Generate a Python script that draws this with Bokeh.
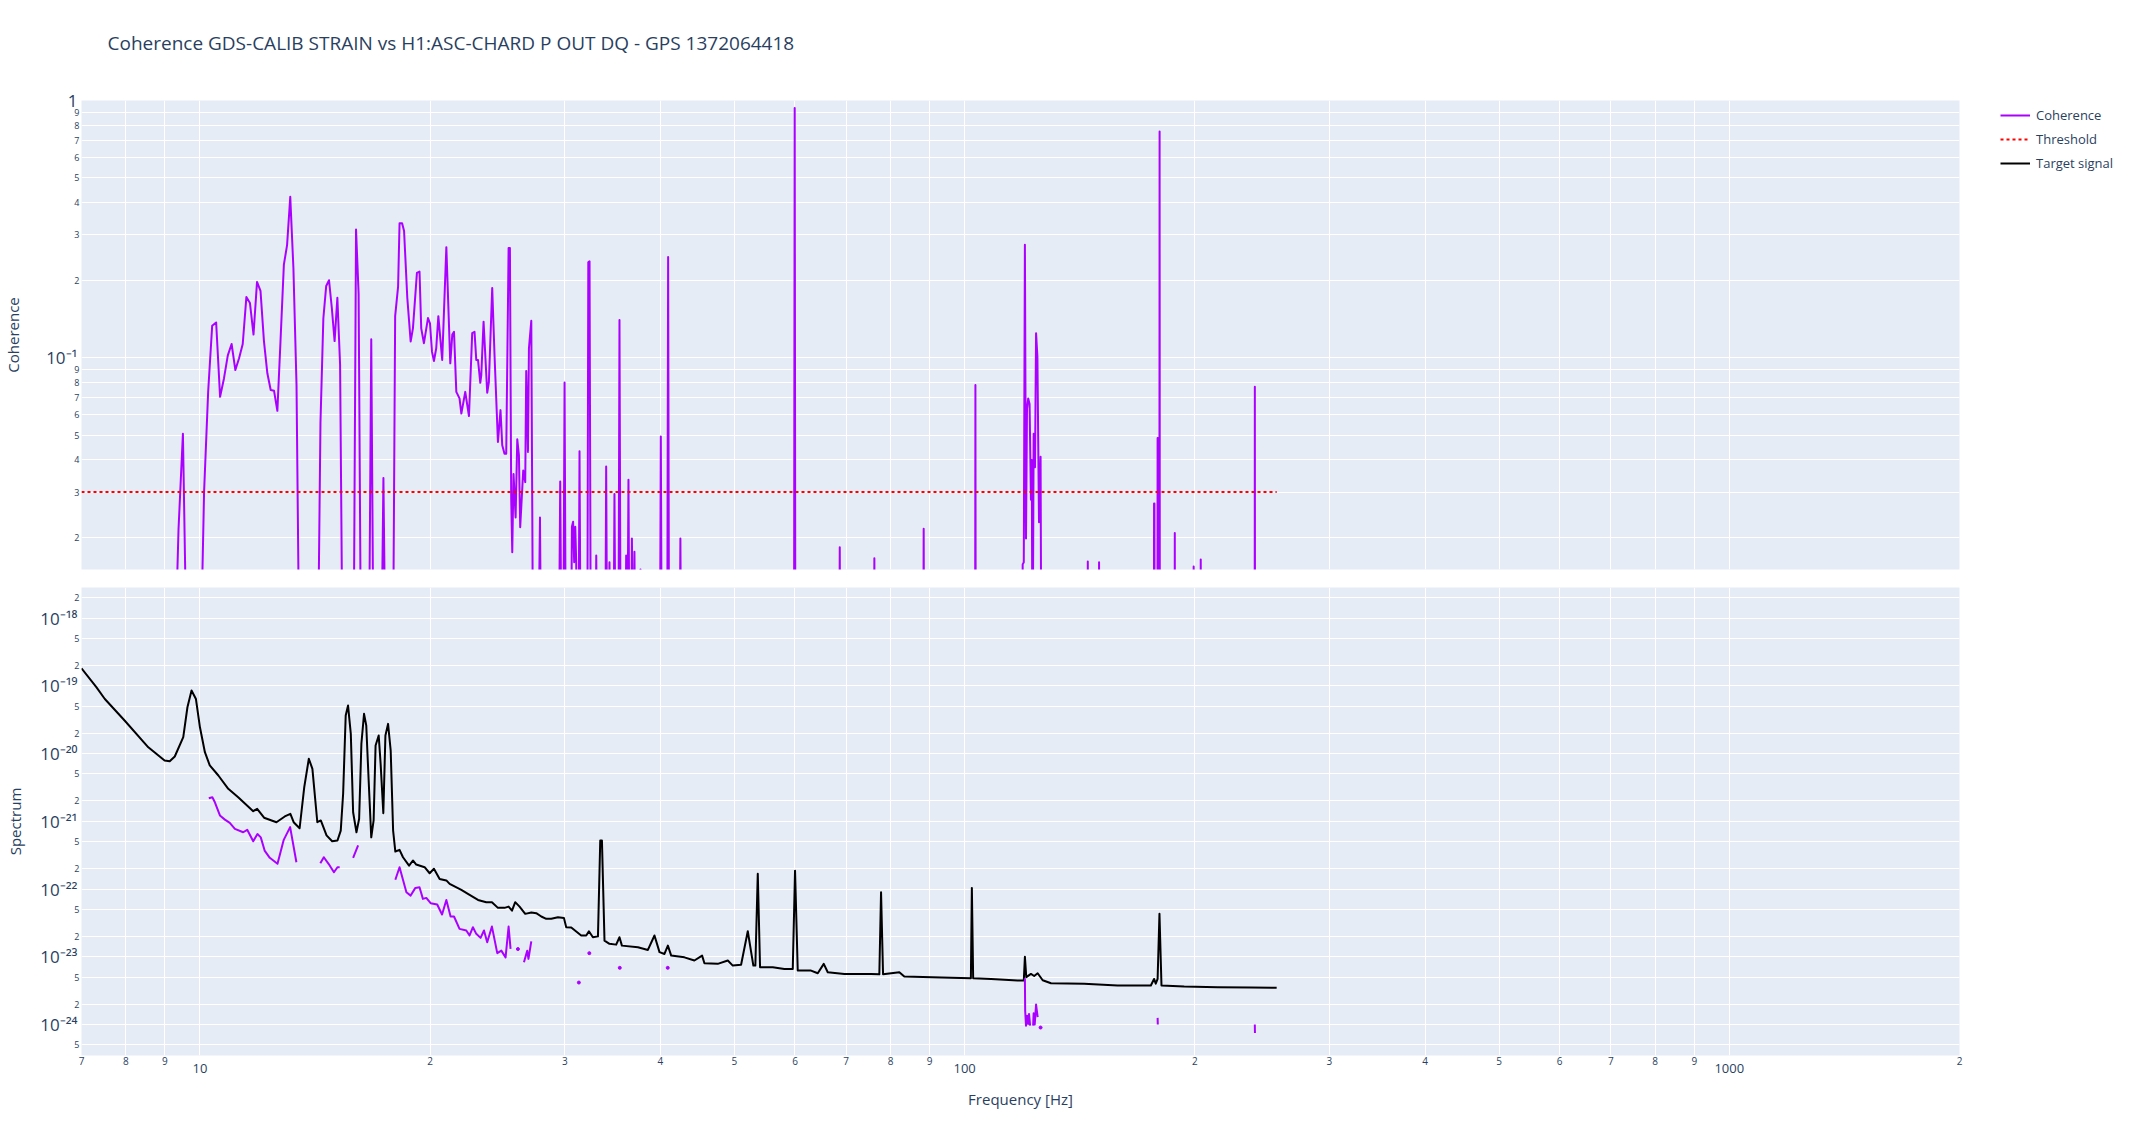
import math
from bokeh.plotting import figure
from bokeh.layouts import column, row
from bokeh.models import Range1d, FixedTicker, LogAxis, Legend, LegendItem, Title
from bokeh.embed import file_html
from bokeh.resources import INLINE

NAN = float("nan")

# ---------------- data ----------------
title_text = "Coherence GDS-CALIB STRAIN vs H1:ASC-CHARD P OUT DQ - GPS 1372064418"

coh_freq = [
    7.0, 9.25, 9.375, 9.5, 9.625,
    10.0, 10.125, 10.25, 10.375, 10.5, 10.625, 10.75, 10.875, 11.0, 11.125, 11.25, 11.375,
    11.5, 11.625, 11.75, 11.875, 12.0, 12.125, 12.25, 12.375, 12.5, 12.625, 12.75, 12.875,
    13.0, 13.125, 13.25, 13.375, 13.5,
    14.25, 14.375, 14.5, 14.625, 14.75, 14.875, 15.0, 15.125, 15.25, 15.375,
    15.875, 16.0, 16.125, 16.25, 16.625, 16.75, 16.875, 17.25, 17.375, 17.5,
    17.875, 18.0, 18.16, 18.24, 18.38, 18.49, 18.67, 18.86, 18.99, 19.22, 19.37, 19.47,
    19.63, 19.87, 19.99, 20.11, 20.23, 20.37, 20.5, 20.74, 21.0, 21.25, 21.38, 21.49,
    21.64, 21.85, 21.97, 22.23, 22.48, 22.7, 22.86, 22.98, 23.1, 23.26, 23.33, 23.49,
    23.75, 23.87, 24.11, 24.28, 24.53, 24.72, 24.85, 25.02, 25.15, 25.33, 25.43, 25.53,
    25.61, 25.71, 25.87, 26.0, 26.13, 26.23, 26.47, 26.63, 26.71, 26.85, 26.93, 27.12,
    27.28, 27.67, 27.84, 27.95,
    29.45, 29.59, 29.72, 29.85, 29.98, 30.1, 30.55, 30.65, 30.76, 30.86, 30.96, 31.05,
    31.15, 31.25, 31.36, 31.48, 32.1, 32.2, 32.32, 32.45, 32.88, 32.98, 33.1,
    33.88, 33.98, 34.1, 34.22, 34.32, 34.45, 34.72, 34.84, 34.97, 35.25, 35.37, 35.5,
    35.97, 36.09, 36.2, 36.34, 36.47, 36.6, 36.72, 36.85, 37.0, 37.12, 37.55, 37.68, 37.8,
    39.94, 40.06, 40.18, 40.83, 40.95, 41.07, 42.37, 42.49, 42.61,
    59.82, 59.95, 60.07, 68.54, 68.66, 68.78, 76.08, 76.2, 76.32, 88.28, 88.4, 88.52,
    103.2, 103.3, 103.4,
    119.0, 119.1, 119.5, 119.9, 120.3, 120.66, 121.1, 121.6, 122.1, 122.4, 122.7, 123.1,
    123.6, 124.0, 124.5, 125.1, 125.7, 126.0,
    144.8, 144.9, 145.0, 149.8, 149.9, 150.0,
    176.8, 176.9, 177.1, 177.2, 178.7, 178.8, 179.0, 179.1, 179.75, 179.875, 180.0,
    188.2, 188.3, 188.4, 199.2, 199.3, 199.4, 203.5, 203.6, 203.7,
    239.5, 239.625, 239.75, 255.9,
]
coh_val = [
    0.005, 0.005, 0.0215, 0.0506, 0.005,
    0.005, 0.030, 0.0736, 0.133, 0.137, 0.0704, 0.083, 0.102, 0.113, 0.0895, 0.0994, 0.113,
    0.172, 0.163, 0.123, 0.197, 0.182, 0.116, 0.0869, 0.0748, 0.0743, 0.0621, 0.119, 0.230,
    0.274, 0.422, 0.223, 0.0782, 0.005,
    0.005, 0.056, 0.142, 0.190, 0.200, 0.156, 0.116, 0.171, 0.0936, 0.005,
    0.005, 0.315, 0.177, 0.005, 0.005, 0.118, 0.005, 0.005, 0.034, 0.005,
    0.005, 0.145, 0.189, 0.333, 0.333, 0.311, 0.171, 0.1155, 0.130, 0.2135, 0.216, 0.130,
    0.1138, 0.1425, 0.136, 0.1055, 0.097, 0.1088, 0.145, 0.098, 0.269, 0.095, 0.123, 0.126,
    0.0736, 0.0694, 0.0606, 0.0736, 0.0593, 0.1245, 0.126, 0.098, 0.098, 0.0798, 0.0856, 0.138,
    0.073, 0.0804, 0.1866, 0.102, 0.047, 0.0625, 0.0456, 0.0423, 0.0423, 0.267, 0.267, 0.0282,
    0.0175, 0.0353, 0.0239, 0.0481, 0.0417, 0.0219, 0.0364, 0.0328, 0.0887, 0.043, 0.1088, 0.139,
    0.005, 0.005, 0.0239, 0.005,
    0.005, 0.033, 0.005, 0.005, 0.080, 0.005, 0.005, 0.022, 0.023, 0.016, 0.022, 0.016,
    0.005, 0.005, 0.0432, 0.005, 0.005, 0.235, 0.237, 0.005, 0.005, 0.017, 0.005,
    0.005, 0.0377, 0.005, 0.005, 0.016, 0.005, 0.005, 0.0295, 0.005, 0.005, 0.140, 0.005,
    0.005, 0.017, 0.005, 0.0335, 0.005, 0.005, 0.0198, 0.005, 0.0176, 0.005, 0.005, 0.015, 0.005,
    0.005, 0.0494, 0.005, 0.005, 0.246, 0.005, 0.005, 0.0198, 0.005,
    0.005, 0.936, 0.005, 0.005, 0.0183, 0.005, 0.005, 0.0166, 0.005, 0.005, 0.0216, 0.005,
    0.005, 0.0782, 0.005,
    0.005, 0.0157, 0.016, 0.275, 0.0198, 0.0632, 0.0694, 0.066, 0.028, 0.040, 0.005, 0.0506,
    0.0375, 0.1245, 0.101, 0.0229, 0.0412, 0.005,
    0.005, 0.0161, 0.005, 0.005, 0.016, 0.005,
    0.005, 0.0271, 0.0271, 0.005, 0.005, 0.0487, 0.0487, 0.005, 0.005, 0.757, 0.005,
    0.005, 0.0208, 0.005, 0.005, 0.0154, 0.005, 0.005, 0.0164, 0.005,
    0.005, 0.077, 0.005, 0.005,
]

thr_freq = [7.0, 255.9]
thr_val = [0.03, 0.03]

target_freq = [
    7.0, 7.32, 7.51, 7.97, 8.56, 8.99, 9.13, 9.27, 9.51, 9.63, 9.75, 9.88, 10.0, 10.15,
    10.3, 10.57, 10.89, 11.22, 11.74, 11.88, 12.13, 12.59, 12.91, 13.13, 13.26, 13.5,
    13.69, 13.88, 14.03, 14.24, 14.39, 14.64, 14.89, 15.13, 15.28, 15.39, 15.51, 15.62,
    15.75, 15.86, 16.02, 16.15, 16.26, 16.39, 16.5, 16.62, 16.75, 16.87, 16.97, 17.13,
    17.23, 17.37, 17.48, 17.62, 17.76, 17.89, 18.01, 18.24, 18.43, 18.77, 18.99, 19.18,
    19.67, 19.97, 20.23, 20.58, 21.0, 21.21, 21.97, 22.41, 23.1, 23.68, 24.09, 24.53,
    25.02, 25.33, 25.59, 25.84, 26.18, 26.63, 27.12, 27.53, 27.95, 28.37, 28.8, 29.39,
    29.92, 30.13, 30.59, 31.52, 32.0, 32.26, 32.65, 33.15, 33.38, 33.55, 33.81, 34.32,
    35.02, 35.37, 35.63, 37.39, 38.53, 39.3, 39.9, 40.5, 40.92, 41.33, 43.01, 44.32,
    45.36, 45.68, 47.55, 49.01, 49.75, 51.01, 52.05, 52.93, 53.25, 53.64, 54.01, 56.12,
    58.11, 59.6, 60.01, 60.5, 62.97, 64.26, 65.43, 66.22, 69.62, 75.44, 77.35, 77.75,
    78.22, 82.15, 83.39, 95.98, 101.9, 102.2, 102.6, 108.3, 117.3, 119.5, 119.9, 120.4,
    122.1, 123.3, 124.6, 126.5, 129.7, 143.3, 158.5, 175.2, 176.9, 177.8, 178.8, 179.8,
    180.9, 193.7, 214.2, 236.7, 255.9,
]
target_val = [
    1.82e-19, 9.6e-20, 6.4e-20, 3.08e-20, 1.24e-20, 7.9e-21, 7.7e-21, 9.06e-21, 1.75e-20,
    4.84e-20, 8.55e-20, 6.4e-20, 2.45e-20, 1.05e-20,
    6.7e-21, 4.75e-21, 3.02e-21, 2.27e-21, 1.41e-21, 1.53e-21, 1.13e-21, 9.7e-22, 1.18e-21,
    1.29e-21, 9.7e-22, 7.9e-22,
    3.19e-21, 8.4e-21, 5.96e-21, 9.7e-22, 1.03e-21, 6.2e-22, 5.08e-22, 5.2e-22, 7.3e-22,
    2.55e-21, 3.66e-20, 5.13e-20,
    1.96e-20, 1.36e-21, 6.9e-22, 1.09e-21, 1.4e-20, 3.87e-20, 2.6e-20, 4.0e-21, 5.8e-22,
    1.03e-21, 1.32e-20, 1.85e-20,
    7.06e-21, 1.32e-21, 1.85e-20, 2.75e-20, 1.11e-20, 7.3e-22, 3.58e-22, 3.79e-22, 2.95e-22,
    2.22e-22, 2.64e-22, 2.3e-22,
    2.1e-22, 1.71e-22, 1.99e-22, 1.41e-22, 1.34e-22, 1.19e-22, 9.7e-23, 8.5e-23, 6.9e-23,
    6.38e-23, 6.38e-23, 5.27e-23,
    5.27e-23, 5.5e-23, 4.8e-23, 6.4e-23, 5.5e-23, 4.3e-23, 4.5e-23, 4.4e-23, 3.93e-23,
    3.63e-23, 3.63e-23, 3.83e-23,
    3.75e-23, 2.73e-23, 2.7e-23, 2.06e-23, 2.06e-23, 2.38e-23, 1.94e-23, 2.0e-23, 5.2e-22,
    5.2e-22, 1.73e-23, 1.55e-23,
    1.51e-23, 1.94e-23, 1.46e-23, 1.38e-23, 1.26e-23, 2.06e-23, 1.17e-23, 1.1e-23, 1.46e-23,
    1.04e-23, 9.8e-24, 8.8e-24,
    1.04e-23, 8.0e-24, 7.85e-24, 8.8e-24, 7.4e-24, 7.6e-24, 2.38e-23, 7.4e-24, 7.4e-24,
    1.68e-22, 7.0e-24, 7.0e-24,
    6.6e-24, 6.6e-24, 1.87e-22, 6.25e-24, 6.25e-24, 5.7e-24, 7.85e-24, 5.9e-24, 5.58e-24,
    5.58e-24, 5.5e-24, 8.98e-23,
    5.5e-24, 5.9e-24, 5.09e-24, 4.88e-24, 4.8e-24, 1.04e-22, 4.8e-24, 4.71e-24, 4.45e-24,
    4.45e-24, 1.0e-23, 5.0e-24,
    5.58e-24, 5.2e-24, 5.7e-24, 4.5e-24, 4.06e-24, 4.0e-24, 3.76e-24, 3.76e-24, 4.7e-24,
    4.0e-24, 4.7e-24, 4.3e-23,
    3.76e-24, 3.63e-24, 3.55e-24, 3.5e-24, 3.47e-24,
]

proj_freq = [
    10.27, 10.38, 10.46, 10.62, 10.78, 10.94, 11.11, 11.39, 11.53, 11.74, 11.89, 12.01,
    12.15, 12.34, 12.63, 12.87, 13.12, 13.37, 13.45,
    14.37, 14.52, 14.73, 14.97, 15.13, 15.23, 15.3,
    15.86, 16.1, 16.2,
    18.01, 18.24, 18.62, 18.86, 19.13, 19.37, 19.57, 19.77, 20.03, 20.43, 20.73, 21.0,
    21.27, 21.49, 21.85, 22.3, 22.52, 22.75, 22.98, 23.28, 23.52, 23.75, 24.09, 24.48,
    24.78, 25.1, 25.33, 25.48, 25.55,
    26.53, 26.79, 26.89, 27.12, 27.2,
    119.9, 120.0, 120.3, 120.7, 121.1, 121.4, 121.8, 122.0,
    122.9, 123.1, 123.5, 124.0, 124.6, 124.8,
    178.8, 178.9, 179.0,
    239.6, 239.7, 239.8,
]
proj_val = [
    2.19e-21, 2.27e-21, 1.91e-21, 1.22e-21, 1.06e-21, 9.5e-22, 7.75e-22, 6.9e-22, 7.5e-22,
    5.08e-22, 6.5e-22, 5.8e-22, 3.7e-22, 2.89e-22, 2.36e-22, 5.33e-22, 8.2e-22, 2.49e-22, NAN,
    2.41e-22, 2.95e-22, 2.36e-22, 1.77e-22, 2.1e-22, 2.1e-22, NAN,
    2.89e-22, 4.4e-22, NAN,
    1.37e-22, 2.1e-22, 8.98e-23, 8.0e-23, 1.04e-22, 1.06e-22, 7.16e-23, 7.4e-23, 6.17e-23,
    5.9e-23, 4.2e-23, 6.9e-23, 3.93e-23, 3.93e-23, 2.58e-23, 2.44e-23, 2.06e-23, 2.73e-23,
    2.18e-23, 1.9e-23, 2.44e-23, 1.64e-23, 2.79e-23, 1.13e-23, 1.23e-23, 9.8e-24, 2.79e-23,
    1.31e-23, NAN,
    8.3e-24, 1.23e-23, 9.3e-24, 1.69e-23, NAN,
    4.8e-24, 1.58e-24, 9.6e-25, 1.35e-24, 1.02e-24, 1.43e-24, 9.6e-25, NAN,
    9.6e-25, 1.46e-24, 1.0e-24, 1.97e-24, 1.28e-24, NAN,
    1.25e-24, 1.0e-24, NAN,
    1.0e-24, 7.5e-25, NAN,
]
proj_dot_freq = [26.05, 31.3, 32.3, 35.4, 40.9, 125.7]
proj_dot_val = [1.3e-23, 4.16e-24, 1.13e-23, 6.86e-24, 6.86e-24, 9.0e-25]

x_minor_ticks = [7, 8, 9, 20, 30, 40, 50, 60, 70, 80, 90,
                 200, 300, 400, 500, 600, 700, 800, 900, 2000]
x_minor_labels = ["7", "8", "9", "2", "3", "4", "5", "6", "7", "8", "9",
                  "2", "3", "4", "5", "6", "7", "8", "9", "2"]
x_major_ticks = [10, 100, 1000]
x_major_labels = ["10", "100", "1000"]

coh_minor_ticks = [0.02, 0.03, 0.04, 0.05, 0.06, 0.07, 0.08, 0.09,
                   0.2, 0.3, 0.4, 0.5, 0.6, 0.7, 0.8, 0.9]
coh_minor_labels = ["2", "3", "4", "5", "6", "7", "8", "9",
                    "2", "3", "4", "5", "6", "7", "8", "9"]
coh_major_ticks = [0.1, 1.0]
coh_major_labels = ["10⁻¹", "1"]

spec_minor_ticks = [5e-25, 2e-24, 5e-24, 2e-23, 5e-23, 2e-22, 5e-22,
                    2e-21, 5e-21, 2e-20, 5e-20, 2e-19, 5e-19, 2e-18]
spec_minor_labels = ["5", "2", "5", "2", "5", "2", "5",
                     "2", "5", "2", "5", "2", "5", "2"]
spec_major_ticks = [1e-24, 1e-23, 1e-22, 1e-21, 1e-20, 1e-19, 1e-18]
spec_major_labels = ["10⁻²⁴", "10⁻²³", "10⁻²²", "10⁻²¹", "10⁻²⁰", "10⁻¹⁹", "10⁻¹⁸"]

# ---------------- style ----------------
FONT = "Open Sans"
TXT = "#2a3f5f"
BG = "#E5ECF6"
PURPLE = "#AA00FF"
W = 1969            # plots: frame spans x 80 .. 1959
ML, MR = 80, 10
LEG_W, LEG_H = 2133 - W, 200

x_range = Range1d(7, 2000)


def make_fig(height, y_range, mb_top, mb_bottom, y_ticks):
    p = figure(width=W, height=height, x_axis_type="log", y_axis_type="log",
               x_range=x_range, y_range=y_range, output_backend="svg",
               toolbar_location=None, min_border_left=ML, min_border_right=MR,
               min_border_top=mb_top, min_border_bottom=mb_bottom,
               background_fill_color=BG, border_fill_color="white",
               outline_line_color=None)
    p.xgrid.ticker = FixedTicker(ticks=sorted(x_minor_ticks + x_major_ticks), minor_ticks=[])
    p.ygrid.ticker = FixedTicker(ticks=sorted(y_ticks), minor_ticks=[])
    for g in (p.xgrid, p.ygrid):
        g.grid_line_color = "white"
        g.grid_line_width = 1
    return p


def style_axis(ax, ticks, labels, size, standoff):
    ax.ticker = FixedTicker(ticks=ticks, minor_ticks=[])
    ax.major_label_overrides = dict(zip(ticks, labels))
    ax.major_label_text_font = FONT
    ax.major_label_text_font_size = size
    ax.major_label_text_color = TXT
    ax.major_label_standoff = standoff
    ax.axis_line_color = None
    ax.major_tick_line_color = None
    ax.minor_tick_line_color = None
    ax.major_tick_out = 0
    ax.major_tick_in = 0
    ax.minor_tick_out = 0
    ax.minor_tick_in = 0


def style_title(ax, text, standoff, size="15px"):
    ax.axis_label = text
    ax.axis_label_text_font = FONT
    ax.axis_label_text_font_size = size
    ax.axis_label_text_font_style = "normal"
    ax.axis_label_text_color = TXT
    ax.axis_label_standoff = standoff


# ---------------- top: coherence ----------------
top = make_fig(578, Range1d(0.015, 1.0), 100, 9, coh_minor_ticks + coh_major_ticks)
top.xaxis.visible = False
style_axis(top.yaxis[0], coh_minor_ticks, coh_minor_labels, "9px", 2)
top_major = LogAxis()
style_axis(top_major, coh_major_ticks, coh_major_labels, "17px", -6)
style_title(top_major, "Coherence", 20)
top.add_layout(top_major, "left")

spacer = Title(text=" ", text_font_size="1px", standoff=37)
top.add_layout(spacer, "above")
main_title = Title(text=title_text, text_font=FONT, text_font_size="19px",
                   text_font_style="normal", text_color=TXT, align="left",
                   offset=26, standoff=10)
top.add_layout(main_title, "above")

top.line(coh_freq, coh_val, line_color=PURPLE, line_width=2, line_join="round")
top.line(thr_freq, thr_val, line_color="red", line_width=2, line_dash="3 3")

# ---------------- bottom: spectrum ----------------
bot = make_fig(549, Range1d(3.48e-25, 2.84e-18), 9, 72, spec_minor_ticks + spec_major_ticks)
style_axis(bot.yaxis[0], spec_minor_ticks, spec_minor_labels, "9px", 2)
bot_major = LogAxis()
style_axis(bot_major, spec_major_ticks, spec_major_labels, "17px", -6)
style_title(bot_major, "Spectrum", 12)
bot.add_layout(bot_major, "left")

style_axis(bot.xaxis[0], x_minor_ticks, x_minor_labels, "10px", 1)
bot_xmajor = LogAxis()
style_axis(bot_xmajor, x_major_ticks, x_major_labels, "13px", -4)
style_title(bot_xmajor, "Frequency [Hz]", 13)
bot.add_layout(bot_xmajor, "below")

bot.line(target_freq, target_val, line_color="black", line_width=2, line_join="round")
bot.line(proj_freq, proj_val, line_color=PURPLE, line_width=2, line_join="round")
bot.scatter(proj_dot_freq, proj_dot_val, size=3, color=PURPLE)

# ---------------- legend (own small canvas at the right) ----------------
leg = figure(width=LEG_W, height=LEG_H, x_range=Range1d(0, 1), y_range=Range1d(0, 1),
             x_axis_location=None, y_axis_location=None, output_backend="svg",
             toolbar_location=None, min_border=0, outline_line_color=None,
             background_fill_color="white", border_fill_color="white")
leg.grid.visible = False
l_coh = leg.line(x=[NAN], y=[NAN], line_color=PURPLE, line_width=2)
l_thr = leg.line(x=[NAN], y=[NAN], line_color="red", line_width=2, line_dash="3 3")
l_tgt = leg.line(x=[NAN], y=[NAN], line_color="black", line_width=2)
legend = Legend(items=[LegendItem(label="Coherence", renderers=[l_coh]),
                       LegendItem(label="Threshold", renderers=[l_thr]),
                       LegendItem(label="Target signal", renderers=[l_tgt])],
                location=(31, 27), margin=0, padding=5, spacing=4,
                glyph_width=30, glyph_height=20, label_height=20, label_standoff=6,
                label_text_font=FONT, label_text_font_size="13px", label_text_color=TXT,
                border_line_color=None, background_fill_alpha=0)
leg.add_layout(legend)

layout = row(column(top, bot, spacing=0), leg, spacing=0)
open("out.html", "w").write(file_html(layout, INLINE))
